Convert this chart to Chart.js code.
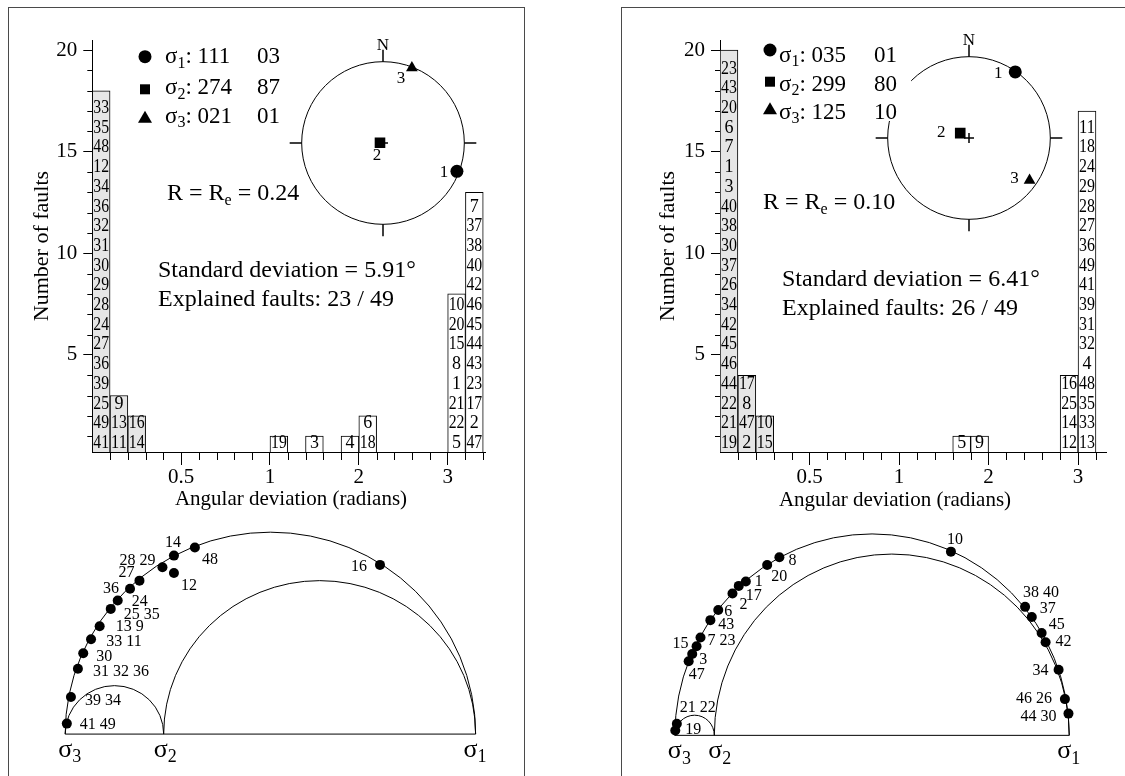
<!DOCTYPE html>
<html>
<head>
<meta charset="utf-8">
<title>Stress inversion results</title>
<script src="https://cdn.jsdelivr.net/npm/chart.js"></script>
<style>
    html, body { margin: 0; padding: 0; background: #fff; }
    body { position: relative; width: 1125px; height: 776px; overflow: hidden; }
    .frame { position: absolute; top: 7px; height: 800px; border: 1px solid #4a4a4a; border-bottom: none; }
    .box { position: absolute; }
    .box canvas { display: block; }
</style>
</head>
<body>
<div class="frame" style="left:8px; width:515px;"></div>
<div class="frame" style="left:621px; width:540px;"></div>

<div class="box" style="left:268px; top:28px; width:230px; height:230px;"><canvas id="netA"></canvas></div>
<div class="box" style="left:854px; top:23px; width:230px; height:230px;"><canvas id="netB"></canvas></div>
<div class="box" style="left:0px; top:0px; width:525px; height:520px;"><canvas id="histA"></canvas></div>
<div class="box" style="left:600px; top:0px; width:525px; height:520px;"><canvas id="histB"></canvas></div>
<div class="box" style="left:20px; top:500px; width:490px; height:276px;"><canvas id="mohrA"></canvas></div>
<div class="box" style="left:630px; top:500px; width:490px; height:276px;"><canvas id="mohrB"></canvas></div>

<script>
const SERIF = '"Liberation Serif", "Times New Roman", serif';

// ---------- histogram data (bin index along the angular deviation axis) ----------
const binsA = [0, 1, 2, 10, 12, 14, 15, 20, 21];
const faultsA = [
    [33, 35, 48, 12, 34, 36, 32, 31, 30, 29, 28, 24, 27, 36, 39, 25, 49, 41],
    [9, 13, 11],
    [16, 14],
    [19],
    [3],
    [4],
    [6, 18],
    [10, 20, 15, 8, 1, 21, 22, 5],
    [7, 37, 38, 40, 42, 46, 45, 44, 43, 23, 17, 2, 47]
];
const explainedA = [true, true, true, false, false, false, false, false, false];

const binsB = [0, 1, 2, 13, 14, 19, 20];
const faultsB = [
    [23, 43, 20, 6, 7, 1, 3, 40, 38, 30, 37, 26, 34, 42, 45, 46, 44, 22, 21, 19],
    [17, 8, 47, 2],
    [10, 15],
    [5],
    [9],
    [16, 25, 14, 12],
    [11, 18, 24, 29, 28, 27, 36, 49, 41, 39, 31, 32, 4, 48, 35, 33, 13]
];
const explainedB = [true, true, true, false, false, false, false];

const xTickBins = [5, 10, 15, 20];
const xTickLabels = ['0.5', '1', '2', '3'];
const yTickValues = [5, 10, 15, 20];
const totalFaults = 49;

// ---------- principal stress axes: trend, plunge (degrees) ----------
const stressA = [[111, 3], [274, 87], [21, 1]];
const stressTextA = [['111', '03'], ['274', '87'], ['021', '01']];
const stressB = [[35, 1], [299, 80], [125, 10]];
const stressTextB = [['035', '01'], ['299', '80'], ['125', '10']];
const ratioA = 0.24;
const ratioB = 0.10;
const stdDevA = '5.91';
const stdDevB = '6.41';

// ---------- Mohr diagrams: normalised normal stress / shear stress ----------
const mohrLabelsA = ['14', '48', '28 29', '12', '27', '36', '24', '25 35', '13 9', '33 11', '30', '31 32 36', '39 34', '41 49', '16'];
const mohrSigmaA = [0.265, 0.316, 0.237, 0.265, 0.181, 0.158, 0.128, 0.111, 0.084, 0.063, 0.044, 0.031, 0.014, 0.004, 0.767];
const mohrTauA = [0.442, 0.462, 0.413, 0.399, 0.380, 0.360, 0.331, 0.310, 0.267, 0.235, 0.200, 0.162, 0.092, 0.026, 0.419];

const mohrLabelsB = ['10', '8', '20', '1', '17', '2', '6', '43', '7 23', '15', '3', '47', '21 22', '19', '38 40', '37', '45', '42', '34', '46 26', '44 30'];
const mohrSigmaB = [0.700, 0.265, 0.234, 0.180, 0.162, 0.146, 0.110, 0.090, 0.065, 0.055, 0.044, 0.035, 0.005, 0.001, 0.888, 0.905, 0.930, 0.940, 0.973, 0.989, 0.998];
const mohrTauB = [0.456, 0.442, 0.423, 0.382, 0.371, 0.352, 0.311, 0.286, 0.243, 0.221, 0.202, 0.184, 0.029, 0.012, 0.319, 0.294, 0.254, 0.231, 0.163, 0.090, 0.054];

// ---------- layout (page pixels) ----------
const layoutA = {
    left: 0, top: 0,
    pad: { left: 25.3, top: 40, right: 40, bottom: 28 }, yAxisWidth: 67, xMax: 22.1, lastBin: 22,
    legend: { symX: 145, textX: 165, secondX: 257, base: [63, 94, 122.5], symY: [56.7, 89.3, 116.7] },
    ratio: { x: 167, y: 200 }, std: { x: 158, y: 277 }, expl: { x: 158, y: 306 },
    xTitle: { x: 291, y: 499 }, mask: null
};
const layoutB = {
    left: 600, top: 0,
    pad: { left: 50.8, top: 40, right: 18.3, bottom: 28 }, yAxisWidth: 69.2, xMax: 21.6, lastBin: 21,
    legend: { symX: 770, textX: 779, secondX: 874, base: [61.5, 90.5, 118.5], symY: [50, 81.7, 108.3] },
    ratio: { x: 763, y: 209 }, std: { x: 782, y: 286 }, expl: { x: 782, y: 315 },
    xTitle: { x: 895, y: 500 }, mask: { x: 757, y: 36, w: 154, h: 85 }
};
const netLabelOffsetA = [[-13, 1], [-3, 13], [-11, 11]];
const netLabelOffsetB = [[-17, 2], [-19, -1], [-15, -2]];
const mohrOffsetA = [[-1, -13], [15, 12], [-25, -7], [15, 13], [-13, -8], [-19, 0], [22, 1], [31, 6], [30, 1], [33, 3], [21, 3], [43, 3], [32, 4], [31, 1], [-21, 2]];
const mohrOffsetB = [[4, -12], [13, 4], [12, 12], [13, 0], [15, 10], [11, 11], [10, 2], [16, 5], [21, 3], [-16, -3], [11, 6], [8, 14], [21, -16], [18, -1], [16, -14], [16, -8], [15, -8], [18, 0], [-18, 1], [-31, 0], [-30, 3]];

Chart.defaults.font.family = SERIF;
Chart.defaults.color = '#000';
Chart.defaults.animation = false;

document.addEventListener("DOMContentLoaded", () => {
    createHistogram('histA', binsA, faultsA, explainedA, stressTextA, ratioA, stdDevA, layoutA);
    createHistogram('histB', binsB, faultsB, explainedB, stressTextB, ratioB, stdDevB, layoutB);
    createNet('netA', stressA, netLabelOffsetA);
    createNet('netB', stressB, netLabelOffsetB);
    createMohr('mohrA', mohrSigmaA, mohrTauA, mohrLabelsA, mohrOffsetA, ratioA,
        { xMin: -0.0979, xMax: 1.0716, yMin: -0.0914, yMax: 0.5673, sigmaShift: [0, -3, -5] });
    createMohr('mohrB', mohrSigmaB, mohrTauB, mohrLabelsB, mohrOffsetB, ratioB,
        { xMin: -0.1011, xMax: 1.1160, yMin: -0.0885, yMax: 0.5718, sigmaShift: [0, 1, -5] });
});

// sigma with a subscript index, returns x after the text
function drawSigma(ctx, x, y, idx, size) {
    ctx.font = size + 'px ' + SERIF;
    ctx.fillText('σ', x, y);
    const w = ctx.measureText('σ').width;
    ctx.font = Math.round(size * 0.68) + 'px ' + SERIF;
    ctx.fillText(String(idx), x + w, y + size * 0.2);
    return x + w + ctx.measureText(String(idx)).width;
}

function drawMarker(ctx, kind, x, y) {
    ctx.beginPath();
    if (kind === 0) {
        ctx.arc(x, y, 6.5, 0, 2 * Math.PI);
    } else if (kind === 1) {
        ctx.rect(x - 5, y - 5, 10, 10);
    } else {
        ctx.moveTo(x, y - 6);
        ctx.lineTo(x + 7, y + 6);
        ctx.lineTo(x - 7, y + 6);
        ctx.closePath();
    }
    ctx.fill();
}

function createHistogram(canvasId, bins, faults, explained, stressText, ratio, stdDev, lay) {
    const ctx = document.getElementById(canvasId).getContext('2d');
    const explainedCount = faults.reduce((n, list, i) => n + (explained[i] ? list.length : 0), 0);

    const decor = {
        id: 'histDecor',
        afterDraw(chart) {
            const { ctx, chartArea, scales: { x, y } } = chart;
            const ox = lay.left, oy = lay.top;
            ctx.save();
            ctx.strokeStyle = '#000';
            ctx.fillStyle = '#000';
            ctx.lineWidth = 1;

            // minor ticks
            ctx.beginPath();
            for (let v = 1; v <= 20; v++) {
                if (yTickValues.includes(v)) continue;
                const py = Math.round(y.getPixelForValue(v)) + 0.5;
                ctx.moveTo(chartArea.left - 5, py);
                ctx.lineTo(chartArea.left, py);
            }
            for (let b = 1; b <= lay.lastBin; b++) {
                if (xTickBins.includes(b)) continue;
                const px = Math.round(x.getPixelForValue(b)) + 0.5;
                ctx.moveTo(px, chartArea.bottom);
                ctx.lineTo(px, chartArea.bottom + 8);
            }
            ctx.stroke();

            // fault numbers stacked inside each bar
            const meta = chart.getDatasetMeta(0);
            ctx.font = '18px ' + SERIF;
            ctx.textAlign = 'center';
            ctx.textBaseline = 'middle';
            meta.data.forEach((bar, i) => {
                const list = faults[i];
                list.forEach((f, k) => {
                    const fromBottom = list.length - 1 - k;
                    const py = y.getPixelForValue(0.7 + fromBottom * 0.97);
                    ctx.fillText(String(f), bar.x, py + 1, bar.width - 2);
                });
            });

            // x axis title
            ctx.font = '21px ' + SERIF;
            ctx.fillText('Angular deviation (radians)', lay.xTitle.x - ox, lay.xTitle.y - oy);

            // legend of principal stresses
            if (lay.mask) {
                ctx.fillStyle = '#fff';
                ctx.fillRect(lay.mask.x - ox, lay.mask.y - oy, lay.mask.w, lay.mask.h);
                ctx.fillStyle = '#000';
            }
            ctx.textAlign = 'left';
            ctx.textBaseline = 'alphabetic';
            const lg = lay.legend;
            stressText.forEach((t, i) => {
                drawMarker(ctx, i, lg.symX - ox, lg.symY[i] - oy);
                let px = drawSigma(ctx, lg.textX - ox, lg.base[i] - oy, i + 1, 23);
                ctx.font = '23px ' + SERIF;
                ctx.fillText(': ' + t[0], px, lg.base[i] - oy);
                ctx.fillText(t[1], lg.secondX - ox, lg.base[i] - oy);
            });

            // ratio, misfit and explained faults
            ctx.font = '24px ' + SERIF;
            let px = lay.ratio.x - ox;
            ctx.fillText('R = R', px, lay.ratio.y - oy);
            px += ctx.measureText('R = R').width;
            ctx.font = '16px ' + SERIF;
            ctx.fillText('e', px, lay.ratio.y - oy + 5);
            px += ctx.measureText('e').width;
            ctx.font = '24px ' + SERIF;
            ctx.fillText(' = ' + ratio.toFixed(2), px, lay.ratio.y - oy);

            ctx.fillText('Standard deviation = ' + stdDev + '°', lay.std.x - ox, lay.std.y - oy);
            ctx.fillText('Explained faults: ' + explainedCount + ' / ' + totalFaults, lay.expl.x - ox, lay.expl.y - oy);
            ctx.restore();
        }
    };

    return new Chart(ctx, {
        type: 'bar',
        data: {
            datasets: [{
                data: bins.map((b, i) => ({ x: b + 0.5, y: faults[i].length })),
                backgroundColor: explained.map(e => e ? '#e6e6e6' : '#ffffff'),
                borderColor: '#000',
                borderWidth: 1,
                barPercentage: 1,
                categoryPercentage: 1
            }]
        },
        options: {
            responsive: true,
            maintainAspectRatio: false,
            events: [],
            layout: { padding: lay.pad },
            plugins: {
                legend: { display: false },
                tooltip: { enabled: false }
            },
            scales: {
                x: {
                    type: 'linear',
                    min: 0,
                    max: lay.xMax,
                    offset: false,
                    afterBuildTicks: (scale) => { scale.ticks = xTickBins.map(v => ({ value: v })); },
                    afterFit: (scale) => { scale.height = 40; },
                    grid: { offset: false, drawOnChartArea: false, tickLength: 13, tickColor: '#000' },
                    border: { color: '#000', width: 1 },
                    ticks: {
                        autoSkip: false,
                        maxRotation: 0,
                        padding: 0,
                        font: { size: 21 },
                        color: '#000',
                        callback: (v, i) => xTickLabels[i]
                    }
                },
                y: {
                    min: 0.22,
                    max: 20.5,
                    afterBuildTicks: (scale) => { scale.ticks = yTickValues.map(v => ({ value: v })); },
                    afterFit: (scale) => { scale.width = lay.yAxisWidth; },
                    grid: { drawOnChartArea: false, tickLength: 9, tickColor: '#000' },
                    border: { color: '#000', width: 1 },
                    ticks: { padding: 6, font: { size: 21 }, color: '#000' },
                    title: { display: true, text: 'Number of faults', font: { size: 22 }, color: '#000' }
                }
            }
        },
        plugins: [decor]
    });
}

// lower hemisphere equal-area projection, primitive radius 1
function project(trend, plunge) {
    const t = trend * Math.PI / 180;
    const r = Math.SQRT2 * Math.sin((90 - plunge) * Math.PI / 360);
    return { x: r * Math.sin(t), y: r * Math.cos(t) };
}

function createNet(canvasId, stress, labelOffset) {
    const ctx = document.getElementById(canvasId).getContext('2d');
    const pts = stress.map(s => project(s[0], s[1]));
    const lim = 115 / 87;

    const decor = {
        id: 'netDecor',
        beforeDatasetsDraw(chart) {
            const { ctx, scales: { x, y } } = chart;
            const cx = x.getPixelForValue(0), cy = y.getPixelForValue(0);
            const r = x.getPixelForValue(1) - cx;
            ctx.save();
            ctx.strokeStyle = '#000';
            ctx.lineWidth = 1;
            ctx.beginPath();
            ctx.arc(cx, cy, r, 0, 2 * Math.PI);
            ctx.stroke();
            ctx.lineWidth = 1.5;
            ctx.beginPath();
            [[0, -1], [1, 0], [0, 1], [-1, 0]].forEach(([dx, dy]) => {
                ctx.moveTo(cx + dx * r, cy + dy * r);
                ctx.lineTo(cx + dx * (r + 12), cy + dy * (r + 12));
            });
            ctx.moveTo(cx - 5, cy); ctx.lineTo(cx + 5, cy);
            ctx.moveTo(cx, cy - 5); ctx.lineTo(cx, cy + 5);
            ctx.stroke();
            ctx.fillStyle = '#000';
            ctx.font = '17px ' + SERIF;
            ctx.textAlign = 'center';
            ctx.textBaseline = 'alphabetic';
            ctx.fillText('N', cx, cy - r - 12);
            ctx.restore();
        },
        afterDatasetsDraw(chart) {
            const { ctx } = chart;
            ctx.save();
            ctx.fillStyle = '#000';
            ctx.font = '17px ' + SERIF;
            ctx.textAlign = 'center';
            ctx.textBaseline = 'middle';
            for (let i = 0; i < 3; i++) {
                const el = chart.getDatasetMeta(i).data[0];
                ctx.fillText(String(i + 1), el.x + labelOffset[i][0], el.y + labelOffset[i][1]);
            }
            ctx.restore();
        }
    };

    const styles = [['circle', 6.5], ['rect', 7.5], ['triangle', 6.8]];
    return new Chart(ctx, {
        type: 'scatter',
        data: {
            datasets: pts.map((p, i) => ({
                data: [p],
                pointStyle: styles[i][0],
                pointRadius: styles[i][1],
                backgroundColor: '#000',
                borderColor: '#000',
                borderWidth: 0
            }))
        },
        options: {
            responsive: true,
            maintainAspectRatio: false,
            events: [],
            layout: { padding: 0 },
            plugins: { legend: { display: false }, tooltip: { enabled: false } },
            scales: {
                x: { display: false, min: -lim, max: lim },
                y: { display: false, min: -lim, max: lim }
            }
        },
        plugins: [decor]
    });
}

function createMohr(canvasId, sigma, tau, labels, offsets, ratio, frame) {
    const ctx = document.getElementById(canvasId).getContext('2d');

    const decor = {
        id: 'mohrDecor',
        beforeDatasetsDraw(chart) {
            const { ctx, scales: { x, y } } = chart;
            const y0 = y.getPixelForValue(0);
            ctx.save();
            ctx.strokeStyle = '#000';
            ctx.lineWidth = 1;
            ctx.beginPath();
            ctx.moveTo(x.getPixelForValue(0), y0);
            ctx.lineTo(x.getPixelForValue(1), y0);
            ctx.stroke();
            [[0, ratio], [ratio, 1], [0, 1]].forEach(([a, b]) => {
                const cx = x.getPixelForValue((a + b) / 2);
                const rx = x.getPixelForValue(b) - cx;
                const ry = y0 - y.getPixelForValue((b - a) / 2);
                ctx.beginPath();
                ctx.ellipse(cx, y0, rx, ry, 0, Math.PI, 2 * Math.PI);
                ctx.stroke();
            });

            // sigma3, sigma2, sigma1 under the axis
            ctx.fillStyle = '#000';
            ctx.textAlign = 'left';
            ctx.textBaseline = 'alphabetic';
            [[0, 3], [ratio, 2], [1, 1]].forEach(([s, idx], k) => {
                ctx.font = '26px ' + SERIF;
                const w = ctx.measureText('σ').width;
                drawSigma(ctx, x.getPixelForValue(s) - w / 2 + frame.sigmaShift[k], y0 + 23, idx, 26);
            });
            ctx.restore();
        },
        afterDatasetsDraw(chart) {
            const { ctx } = chart;
            const meta = chart.getDatasetMeta(0);
            ctx.save();
            ctx.fillStyle = '#000';
            ctx.font = '16px ' + SERIF;
            ctx.textAlign = 'center';
            ctx.textBaseline = 'middle';
            meta.data.forEach((pt, i) => {
                ctx.fillText(labels[i], pt.x + offsets[i][0], pt.y + offsets[i][1]);
            });
            ctx.restore();
        }
    };

    return new Chart(ctx, {
        type: 'scatter',
        data: {
            datasets: [{
                data: sigma.map((s, i) => ({ x: s, y: tau[i] })),
                pointRadius: 5,
                backgroundColor: '#000',
                borderColor: '#000',
                borderWidth: 0
            }]
        },
        options: {
            responsive: true,
            maintainAspectRatio: false,
            events: [],
            layout: { padding: 0 },
            plugins: { legend: { display: false }, tooltip: { enabled: false } },
            scales: {
                x: { display: false, min: frame.xMin, max: frame.xMax },
                y: { display: false, min: frame.yMin, max: frame.yMax }
            }
        },
        plugins: [decor]
    });
}
</script>
</body>
</html>
